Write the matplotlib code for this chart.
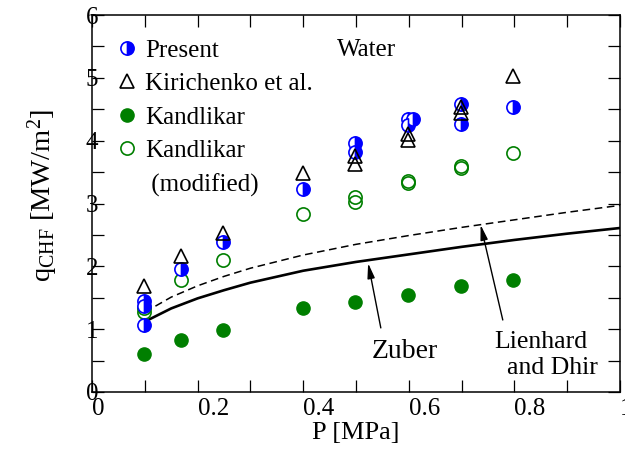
import matplotlib
matplotlib.use("Agg")
import matplotlib.pyplot as plt
from matplotlib.lines import Line2D

plt.rcParams['font.family'] = ['Liberation Serif', 'DejaVu Serif']
plt.rcParams['mathtext.fontset'] = 'custom'
plt.rcParams['mathtext.rm'] = 'Liberation Serif'
plt.rcParams['mathtext.it'] = 'Liberation Serif:italic'

BLUE = '#0000ff'
GREEN = '#007f00'

# data
p_present = [0.099, 0.099, 0.099, 0.169, 0.249, 0.399, 0.498, 0.498, 0.599, 0.608, 0.599, 0.698, 0.698, 0.798]
q_present = [1.45, 1.37, 1.06, 1.95, 2.38, 3.23, 3.96, 3.82, 4.35, 4.34, 4.25, 4.59, 4.27, 4.54]

p_kiri = [0.099, 0.169, 0.249, 0.399, 0.498, 0.498, 0.599, 0.599, 0.698, 0.698, 0.798]
q_kiri = [1.68, 2.16, 2.53, 3.48, 3.75, 3.63, 4.10, 4.01, 4.54, 4.44, 5.03]

p_kand = [0.099, 0.169, 0.249, 0.399, 0.498, 0.599, 0.698, 0.798]
q_kand = [0.60, 0.83, 0.99, 1.33, 1.43, 1.55, 1.68, 1.78]

p_kmod = [0.099, 0.099, 0.169, 0.249, 0.399, 0.498, 0.498, 0.599, 0.599, 0.698, 0.698, 0.798]
q_kmod = [1.33, 1.27, 1.78, 2.10, 2.84, 3.10, 3.03, 3.36, 3.32, 3.59, 3.56, 3.81]

p_line = [0.1, 0.15, 0.2, 0.25, 0.3, 0.4, 0.5, 0.6, 0.7, 0.8, 0.9, 1.0]
q_zuber = [1.12, 1.33, 1.49, 1.62, 1.74, 1.93, 2.07, 2.19, 2.31, 2.42, 2.52, 2.61]
q_lienhard = [1.27, 1.51, 1.69, 1.84, 1.97, 2.18, 2.35, 2.49, 2.62, 2.74, 2.86, 2.97]

fig = plt.figure(figsize=(6.25, 4.57), dpi=100)
ax = fig.add_axes([92/625, 65/457, 528/625, 377/457])

ax.plot(p_line, q_zuber, color='black', lw=1.9, zorder=2)
ax.plot(p_line, q_lienhard, color='black', lw=1.1, ls=(0, (5, 3)), zorder=2)

ms = 9.5
ax.plot(p_kmod, q_kmod, 'o', ms=ms, mfc='none', mec=GREEN, mew=1.2, ls='none', zorder=3)
ax.plot(p_kand, q_kand, 'o', ms=ms, mfc=GREEN, mec=GREEN, ls='none', zorder=3)
ax.plot(p_present, q_present, 'o', ms=ms, fillstyle='right', mfc=BLUE, mfcalt='white',
        mec=BLUE, mew=1.2, ls='none', zorder=4)
ax.plot(p_kiri, q_kiri, '^', ms=10.5, mfc='none', mec='black', mew=1.2, ls='none', zorder=5)

ax.set_xlim(0, 1)
ax.set_ylim(0, 6)
ax.set_xticks([0, 0.2, 0.4, 0.6, 0.8, 1.0])
ax.set_xticklabels(['0', '0.2', '0.4', '0.6', '0.8', '1'])
ax.set_xticks([0.1, 0.3, 0.5, 0.7, 0.9], minor=True)
ax.set_yticks(range(7))
ax.set_yticks([0.5, 1.5, 2.5, 3.5, 4.5, 5.5], minor=True)
ax.tick_params(which='both', direction='in', top=True, right=True, length=8.5, width=0.9)
ax.tick_params(axis='x', labelsize=18, pad=4)
ax.tick_params(axis='y', labelsize=18, pad=0)
for lab in ax.get_xticklabels():
    lab.set_horizontalalignment('left')
for lab in ax.get_yticklabels():
    lab.set_horizontalalignment('center')
for sp in ax.spines.values():
    sp.set_linewidth(1.1)

ax.set_xlabel('P [MPa]', fontsize=19, labelpad=2)
fig.text(0.068, 0.573, r'q$_{\mathrm{CHF}}$ [MW/m$^{2}$]', rotation=90,
         ha='center', va='center', fontsize=20.5)

ax.text(0.464, 5.44, 'Water', fontsize=18, va='center', ha='left')

handles = [
    Line2D([], [], marker='o', ms=ms, fillstyle='right', mfc=BLUE, mfcalt='white', mec=BLUE, mew=1.2, ls='none'),
    Line2D([], [], marker='^', ms=10.5, mfc='none', mec='black', mew=1.2, ls='none'),
    Line2D([], [], marker='o', ms=ms, mfc=GREEN, mec=GREEN, ls='none'),
    Line2D([], [], marker='o', ms=ms, mfc='none', mec=GREEN, mew=1.2, ls='none'),
    Line2D([], [], ls='none'),
]
labels = ['Present', 'Kirichenko et al.', 'Kandlikar', 'Kandlikar', ' (modified)']
ax.legend(handles, labels, loc='upper left', bbox_to_anchor=(0.0426, 0.936), frameon=False,
          fontsize=18, handlelength=1.0, handletextpad=0.22, labelspacing=0.44,
          borderpad=0, borderaxespad=0)

arrow = dict(arrowstyle='-|>,head_length=0.9,head_width=0.22', color='black', lw=1.0,
             shrinkA=0, shrinkB=0)
ax.annotate('', xy=(0.523, 2.05), xytext=(0.547, 1.02), arrowprops=arrow)
ax.annotate('', xy=(0.736, 2.66), xytext=(0.778, 1.146), arrowprops=arrow)
ax.text(0.530, 0.541, 'Zuber', fontsize=20, ha='left', va='baseline')
ax.text(0.761, 0.700, 'Lienhard', fontsize=18.5, ha='left', va='baseline')
ax.text(0.786, 0.286, 'and Dhir', fontsize=18.5, ha='left', va='baseline')

fig.savefig('out.png', dpi=100)
